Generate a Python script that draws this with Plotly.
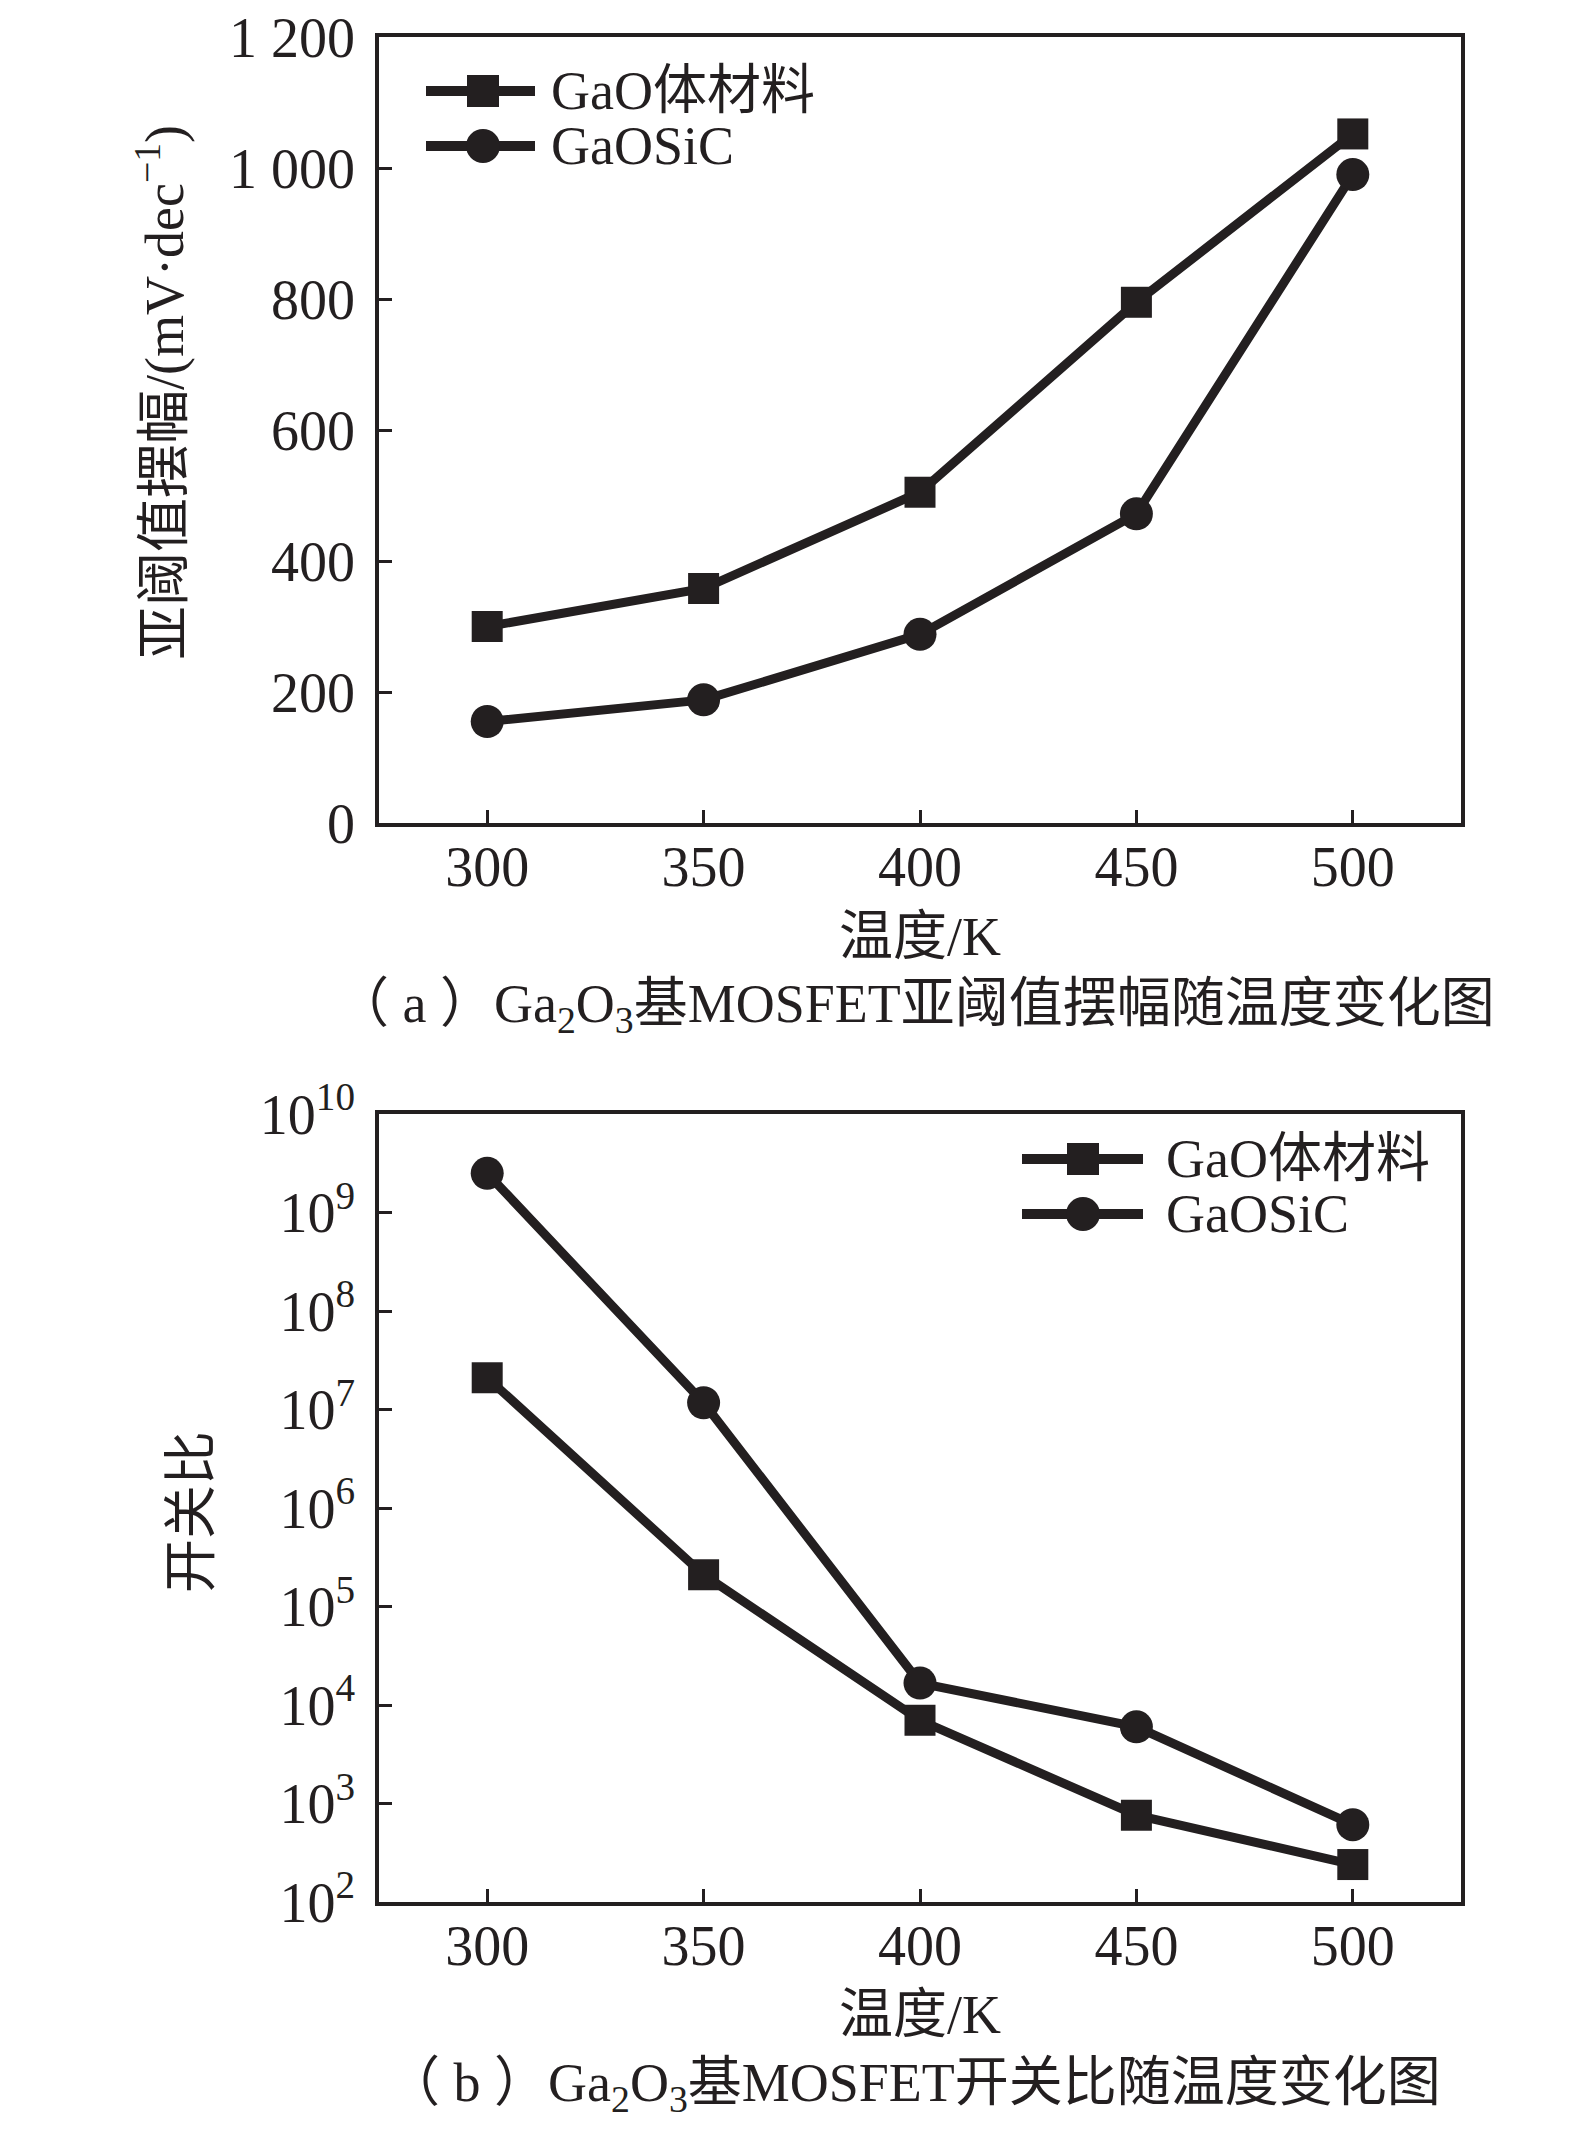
import plotly.graph_objects as go

temps = [300, 350, 400, 450, 500]
ss_gao = [300, 358, 505, 795, 1052]
ss_gaosic = [155, 188, 288, 472, 990]
onoff_gao = [2.1e7, 2.1e5, 7.0e3, 7.6e2, 2.4e2]
onoff_gaosic = [2.5e9, 1.17e7, 1.67e4, 6.0e3, 6.1e2]
names = ["GaO体材料", "GaOSiC"]
symbols = ["square", "circle"]
y1_ticks = [0, 200, 400, 600, 800, 1000, 1200]
y1_text = ["0", "200", "400", "600", "800", "1 000", "1 200"]
y2_exp = [2, 3, 4, 5, 6, 7, 8, 9, 10]

W, H = 1575, 2133
OFF = -2
INK = "#231f20"
FONT = "Liberation Serif, Noto Sans CJK SC, serif"
FS = 54
TFS = 56
LW = 9


def px(v):
    return (v - OFF) / W


def py(v):
    return 1 - (v - OFF) / H


fig = go.Figure()
series = [(ss_gao, ss_gaosic, "x", "y"), (onoff_gao, onoff_gaosic, "x2", "y2")]
for s_gao, s_sic, xa_, ya_ in series:
    for vals, sym, nm in zip([s_gao, s_sic], symbols, names):
        fig.add_trace(go.Scatter(x=temps, y=vals, name=nm, mode="lines+markers",
                                 line=dict(color=INK, width=LW),
                                 marker=dict(symbol=sym, size=31 if sym == "square" else 33, color=INK),
                                 xaxis=xa_, yaxis=ya_, showlegend=False))

xd = [px(377), px(1459)]
axis_common = dict(showline=True, linecolor=INK, linewidth=3.5, mirror=True, ticks="inside",
                   ticklen=13, tickwidth=3, tickcolor=INK, showgrid=False, zeroline=False,
                   automargin=False, ticklabeloverflow="allow",
                   tickfont=dict(family=FONT, size=TFS, color=INK))

xa = dict(range=[275, 525], tickvals=temps, domain=xd, ticklabelstandoff=-8, **axis_common)
fig.update_layout(
    xaxis=dict(anchor="y", **xa),
    yaxis=dict(anchor="x", range=[0, 1200], tickvals=y1_ticks, ticktext=y1_text,
               domain=[py(821), py(35)], ticklabelstandoff=9, **axis_common),
    xaxis2=dict(anchor="y2", **xa),
    yaxis2=dict(anchor="x2", type="log", range=[2, 10], tickvals=[10 ** e for e in y2_exp],
                ticktext=[f"10<sup>{e}</sup>" for e in y2_exp],
                domain=[py(1900), py(1112)], ticklabelstandoff=9, **axis_common),
)

# Hand-built legends (thick lines and large markers like the reference)
legend_rows = [
    # (line x0, line x1, marker cx, text x, row y)
    (424, 533, 481, 547, [89, 144]),
    (1020, 1141, 1081, 1162, [1157, 1212]),
]
ann_font = dict(family=FONT, size=FS, color=INK)
for x0, x1, cx, tx, rows in legend_rows:
    for ry, sym, nm in zip(rows, symbols, names):
        fig.add_shape(type="line", xref="paper", yref="paper", x0=px(x0), x1=px(x1), y0=py(ry), y1=py(ry),
                      line=dict(color=INK, width=LW + 1))
        half = 16 if sym == "square" else 17
        fig.add_shape(type="rect" if sym == "square" else "circle", xref="paper", yref="paper",
                      xsizemode="pixel", ysizemode="pixel", xanchor=px(cx), yanchor=py(ry),
                      x0=-half, x1=half, y0=-half, y1=half, fillcolor=INK, line=dict(width=0))
        fig.add_annotation(xref="paper", yref="paper", x=px(tx), y=py(ry), text=nm, showarrow=False,
                           xanchor="left", yanchor="middle", font=ann_font)

anns = [
    dict(text="温度/K", x=px(918), y=py(935)),
    dict(text="（ a ）Ga<sub>2</sub>O<sub>3</sub>基MOSFET亚阈值摆幅随温度变化图", x=px(913), y=py(1005)),
    dict(text="温度/K", x=px(918), y=py(2013)),
    dict(text="（ b ）Ga<sub>2</sub>O<sub>3</sub>基MOSFET开关比随温度变化图", x=px(911), y=py(2084)),
    dict(text="亚阈值摆幅/(mV·dec<sup>−1</sup>)", x=px(158), y=py(391), textangle=-90),
    dict(text="开关比", x=px(190), y=py(1510), textangle=-90),
]
for a in anns:
    fig.add_annotation(xref="paper", yref="paper", showarrow=False, xanchor="center", yanchor="middle",
                       font=ann_font, **a)

fig.update_layout(width=W, height=H, autosize=False, margin=dict(l=0, r=0, t=0, b=0, autoexpand=False),
                  paper_bgcolor="white", plot_bgcolor="white", showlegend=False)

fig.write_html("out.html", config={"displayModeBar": False},
               post_script="document.body.style.margin='0';")
